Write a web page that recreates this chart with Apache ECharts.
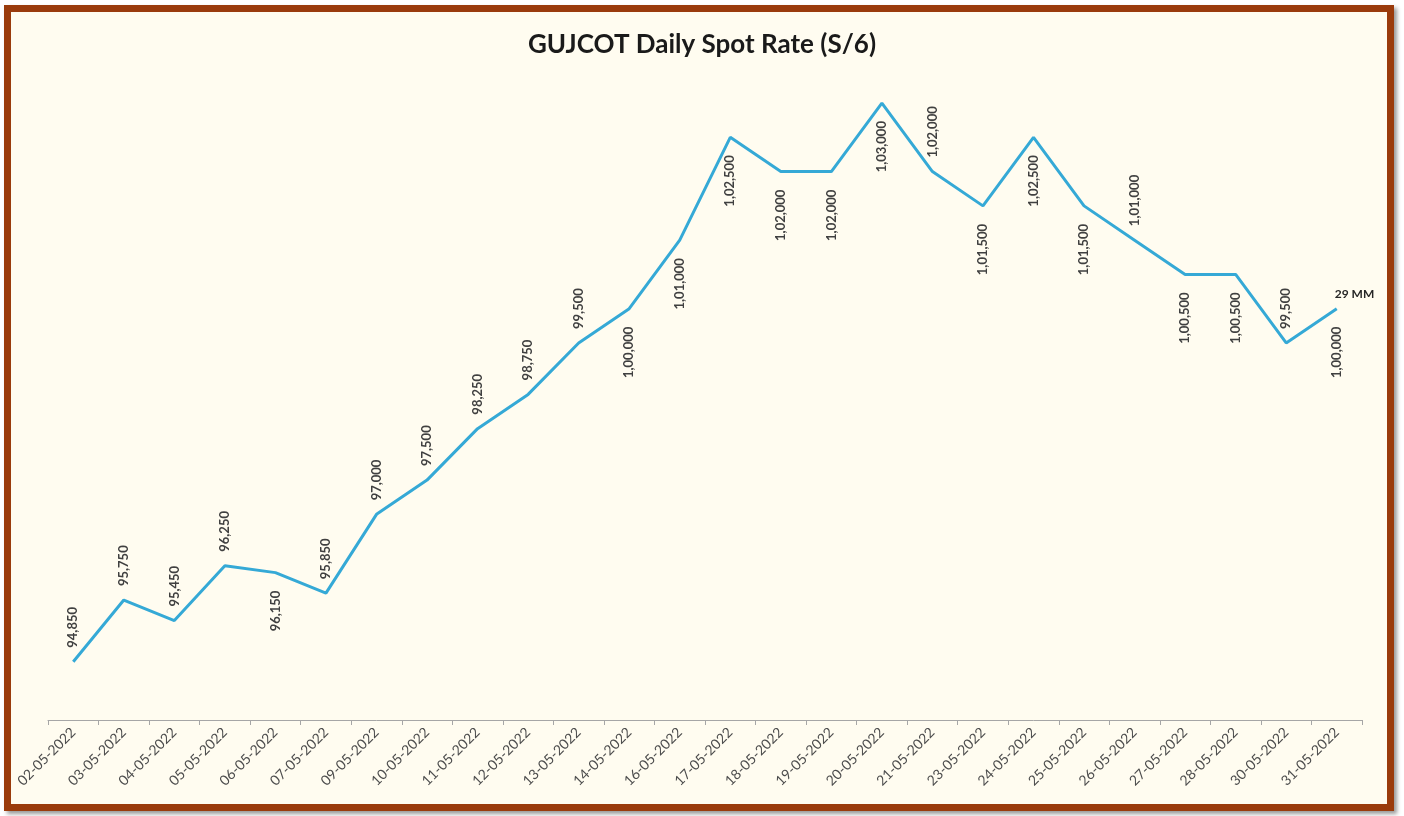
<!DOCTYPE html>
<html>
<head>
<meta charset="utf-8">
<script src="https://cdn.jsdelivr.net/npm/echarts@6/dist/echarts.min.js"></script>
<style>
	html, body { margin: 0; padding: 0; background: #ffffff; }
	#frame {
		position: absolute; left: 4px; top: 5px; width: 1390px; height: 806px;
		box-sizing: border-box; border: 7px solid #9a3b0c; background: #fffcf0;
		box-shadow: 3px 3px 4px #9a9a9a;
	}
	#chart-container { position: absolute; left: 0; top: 0; width: 1404px; height: 816px; }
</style>
</head>
<body>
<div id="frame"></div>
<div id="chart-container"></div>
<script>
var dates = [
	'02-05-2022', '03-05-2022', '04-05-2022', '05-05-2022', '06-05-2022', '07-05-2022',
	'09-05-2022', '10-05-2022', '11-05-2022', '12-05-2022', '13-05-2022', '14-05-2022',
	'16-05-2022', '17-05-2022', '18-05-2022', '19-05-2022', '20-05-2022', '21-05-2022',
	'23-05-2022', '24-05-2022', '25-05-2022', '26-05-2022', '27-05-2022', '28-05-2022',
	'30-05-2022', '31-05-2022'
];
var rates = [
	94850, 95750, 95450, 96250, 96150, 95850,
	97000, 97500, 98250, 98750, 99500, 100000,
	101000, 102500, 102000, 102000, 103000, 102000,
	101500, 102500, 101500, 101000, 100500, 100500,
	99500, 100000
];
var noteText = '29 MM';

// which points get their label under the line
var labelsBelow = [4, 11, 12, 13, 14, 15, 16, 18, 19, 20, 22, 23, 25];

function indian(n) {
	var s = String(n);
	var last3 = s.slice(-3);
	var rest = s.slice(0, -3);
	if (!rest) return last3;
	return rest.replace(/\B(?=(\d{2})+(?!\d))/g, ',') + ',' + last3;
}

var dom = document.getElementById('chart-container');
var myChart = echarts.init(dom, null, { renderer: 'canvas' });

var option = {
	backgroundColor: 'transparent',
	textStyle: { fontFamily: 'Lato' },
	title: {
		text: 'GUJCOT Daily Spot Rate (S/6)',
		left: 'center',
		top: 27,
		textStyle: { fontFamily: 'Lato', fontSize: 26, fontWeight: 'bold', color: '#1a1a1a' }
	},
	grid: { left: 48, right: 42, top: 34.5, bottom: 96, containLabel: false },
	xAxis: {
		type: 'category',
		data: dates,
		boundaryGap: true,
		axisLine: { lineStyle: { color: '#a6a6a6', width: 1 } },
		axisTick: { show: true, length: 5, lineStyle: { color: '#a6a6a6' } },
		axisLabel: {
			rotate: 45,
			interval: 0,
			margin: 10,
			fontFamily: 'Lato',
			fontSize: 14,
			color: '#4d4d4d'
		}
	},
	yAxis: {
		type: 'value',
		min: 94000,
		max: 104000,
		show: false,
		splitLine: { show: false }
	},
	series: [{
		type: 'line',
		data: rates.map(function (v, i) {
			var below = labelsBelow.indexOf(i) >= 0;
			return {
				value: v,
				label: below
					? { position: 'bottom', align: 'right', distance: 18 }
					: { position: 'top', align: 'left', distance: 14 }
			};
		}),
		symbol: 'circle',
		symbolSize: 0,
		showSymbol: true,
		lineStyle: { color: '#35a9d6', width: 3 },
		itemStyle: { color: '#35a9d6' },
		label: {
			show: true,
			rotate: 90,
			verticalAlign: 'middle',
			fontFamily: 'Lato',
			fontSize: 13,
			fontWeight: 'bold',
			color: '#404040',
			formatter: function (p) { return indian(p.value); }
		},
		markPoint: {
			symbol: 'circle',
			symbolSize: 0,
			data: [{
				coord: [dates[dates.length - 1], rates[rates.length - 1]],
				label: {
					show: true,
					formatter: noteText,
					position: 'top',
					align: 'left',
					offset: [-2, -4],
					fontFamily: 'Lato',
					fontSize: 12,
					fontWeight: 'bold',
					color: '#262626'
				}
			}]
		},
		animation: false
	}]
};

myChart.setOption(option);
window.addEventListener('resize', myChart.resize);
</script>
</body>
</html>
